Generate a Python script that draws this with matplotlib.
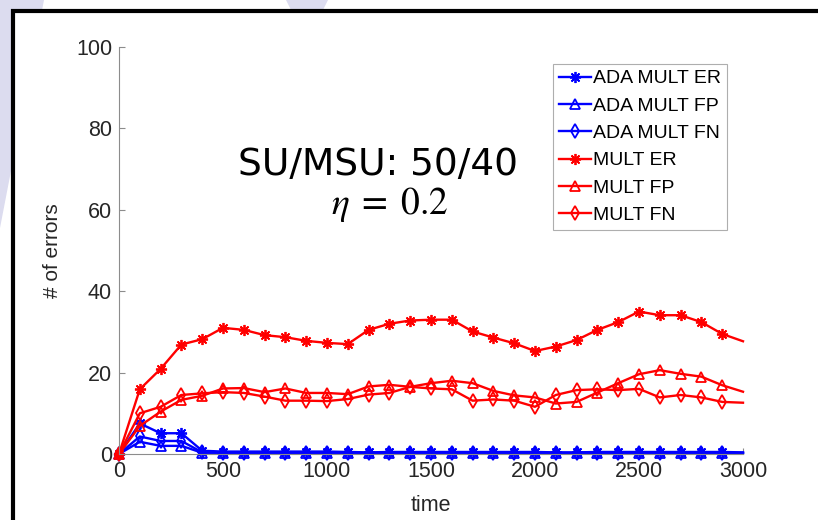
import numpy as np
import matplotlib
matplotlib.use("Agg")
import matplotlib.pyplot as plt
from matplotlib.patches import Rectangle, Polygon

# Données
time = np.arange(0, 3001, 100)

ada_er = [0, 7.5, 5.1, 5.1, 0.8, 0.6, 0.6, 0.6, 0.6, 0.6, 0.6, 0.5, 0.4, 0.5, 0.5, 0.5,
          0.5, 0.5, 0.5, 0.5, 0.5, 0.4, 0.4, 0.5, 0.5, 0.5, 0.5, 0.5, 0.5, 0.5, 0.4]
ada_fp = [0, 3.0, 2.0, 2.0, 0.3, 0.3, 0.3, 0.3, 0.3, 0.3, 0.3, 0.2, 0.2, 0.2, 0.2, 0.2,
          0.2, 0.2, 0.2, 0.2, 0.2, 0.2, 0.2, 0.2, 0.2, 0.2, 0.2, 0.2, 0.2, 0.2, 0.2]
ada_fn = [0, 4.3, 3.2, 3.2, 0.4, 0.3, 0.3, 0.3, 0.3, 0.3, 0.3, 0.3, 0.2, 0.3, 0.3, 0.3,
          0.3, 0.3, 0.3, 0.3, 0.3, 0.3, 0.3, 0.3, 0.3, 0.3, 0.3, 0.3, 0.3, 0.3, 0.3]

mult_er = [0, 15.9, 20.9, 26.9, 28.2, 31.0, 30.5, 29.2, 28.7, 27.8, 27.3, 27.0, 30.5, 32.0,
           32.8, 33.0, 33.0, 30.1, 28.6, 27.2, 25.3, 26.4, 28.0, 30.5, 32.4, 35.0, 34.1,
           34.1, 32.4, 29.5, 27.7]
mult_fp = [0, 6.9, 10.4, 13.3, 14.3, 16.1, 16.2, 15.2, 16.1, 15.0, 15.0, 14.7, 16.6, 17.0,
           16.5, 17.4, 18.0, 17.4, 15.5, 14.4, 13.9, 12.4, 12.8, 15.1, 17.4, 19.6, 20.6,
           19.7, 19.0, 16.9, 15.3]
mult_fn = [0, 10.0, 11.6, 14.5, 14.9, 15.2, 15.0, 14.1, 13.1, 13.1, 13.0, 13.5, 14.6, 15.0,
           16.5, 16.1, 15.9, 13.1, 13.4, 13.1, 11.6, 14.5, 15.7, 15.9, 15.7, 16.0, 13.9,
           14.5, 13.9, 12.8, 12.6]

star = (8, 2, 0)  # asterisque façon matlab
series = [
    ("ADA MULT ER", ada_er, "blue", star),
    ("ADA MULT FP", ada_fp, "blue", "^"),
    ("ADA MULT FN", ada_fn, "blue", "d"),
    ("MULT ER", mult_er, "red", star),
    ("MULT FP", mult_fp, "red", "^"),
    ("MULT FN", mult_fn, "red", "d"),
]

plt.rcParams["font.family"] = ["Liberation Sans", "DejaVu Sans"]
plt.rcParams["mathtext.fontset"] = "stix"

W, H = 818, 520
fig = plt.figure(figsize=(W / 100, H / 100), dpi=100)
fig.patch.set_facecolor("white")

# fond de diapo (décor)
lav = "#dcdcef"
fig.add_artist(Polygon([(0, 1), (44 / W, 1), (0, 1 - 228 / H)], closed=True,
                       transform=fig.transFigure, facecolor=lav, edgecolor="none", zorder=-3))
fig.add_artist(Polygon([(286 / W, 1), (328 / W, 1), (322 / W, 1 - 12 / H), (292 / W, 1 - 12 / H)],
                       closed=True, transform=fig.transFigure, facecolor=lav,
                       edgecolor="none", zorder=-3))
fig.add_artist(Rectangle((13 / W, -0.1), 1.2, 1.1 - 11 / H, transform=fig.transFigure,
                         facecolor="white", edgecolor="black", linewidth=3.0, zorder=-2))

ax = fig.add_axes([119 / W, 66 / H, 624 / W, 407 / H])
ax.set_facecolor("none")

mark_idx = list(range(len(time) - 1))
for label, vals, col, mk in series:
    ms = 8 if mk == star else 7
    ax.plot(time, vals, color=col, marker=mk, markevery=mark_idx, markersize=ms,
            markerfacecolor="none", markeredgecolor=col, markeredgewidth=1.3,
            linewidth=1.7, label=label, clip_on=False)

ax.set_xlim(0, 3000)
ax.set_ylim(0, 100)
ax.set_xticks(np.arange(0, 3001, 500))
ax.set_yticks(np.arange(0, 101, 20))
for side in ["top", "right"]:
    ax.spines[side].set_visible(False)
for side in ["left", "bottom"]:
    ax.spines[side].set_color("#8c8c8c")
    ax.spines[side].set_linewidth(0.8)
ax.tick_params(direction="in", length=4, color="#8c8c8c", labelsize=15.5,
               labelcolor="#262626", pad=5)

ax.set_xlabel("time", fontsize=15.5, color="#262626")
ax.set_ylabel("# of errors", fontsize=15, color="#262626")
ax.xaxis.set_label_coords(0.5, -0.1)
ax.yaxis.set_label_coords(-0.092, 0.5)

leg = ax.legend(loc="upper left", bbox_to_anchor=(553 / W, 1 - 64 / H),
                bbox_transform=fig.transFigure, fontsize=14, frameon=True,
                fancybox=False, borderpad=0.3, labelspacing=0.5,
                handlelength=1.65, handletextpad=0.12, borderaxespad=0)
leg.get_frame().set_edgecolor("#9a9a9a")
leg.get_frame().set_linewidth(0.8)

fig.text(378 / W, 1 - 165 / H, "SU/MSU: 50/40", fontsize=27, family="DejaVu Sans",
         ha="center", va="center", color="black")
fig.text(390 / W, 1 - 205 / H, r"$\eta\;=\;0.2$", fontsize=27,
         ha="center", va="center", color="black")

fig.savefig("out.png", dpi=100)
